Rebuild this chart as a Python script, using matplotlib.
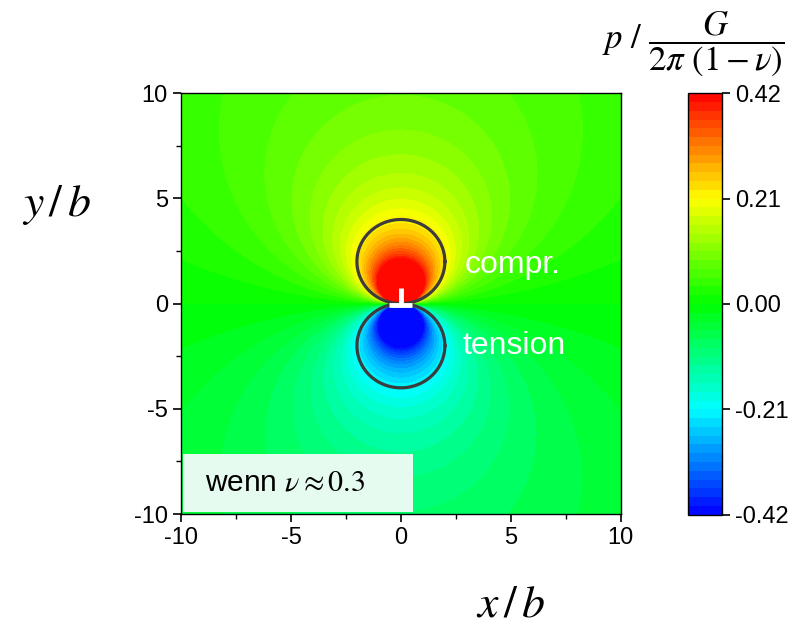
import numpy as np
import matplotlib.pyplot as plt
from matplotlib.colors import LinearSegmentedColormap
from matplotlib.patches import Rectangle

plt.rcParams['font.family'] = ['Liberation Sans', 'DejaVu Sans']
plt.rcParams['mathtext.fontset'] = 'stix'
plt.rcParams['axes.unicode_minus'] = False

# physical parameters and display range
nu = 0.3
p_max = 0.42
n_bands = 48
cbar_ticks = [-0.42, -0.21, 0.0, 0.21, 0.42]
axis_ticks = [-10, -5, 0, 5, 10]
circle_y = [2, -2]
circle_r = 2
labels = ['compr.', 'tension']
label_pos = [(2.9, 1.85), (2.8, -2.0)]

# hydrostatic pressure of an edge dislocation, in units G b / (2 pi (1 - nu))
x = np.linspace(-10, 10, 801)
y = np.linspace(-10, 10, 801)
X, Y = np.meshgrid(x, y)
R2 = X**2 + Y**2
R2[R2 == 0] = 1e-9
P = (2.0 / 3.0) * (1 + nu) * Y / R2
P = np.clip(P, -p_max, p_max)

cmap = LinearSegmentedColormap.from_list(
    'origin_rainbow', ['#0000ff', '#00ffff', '#00ff00', '#ffff00', '#ff0000'])
levels = np.linspace(-p_max, p_max, n_bands + 1)

fig = plt.figure(figsize=(8.01, 6.30), dpi=100)
ax = fig.add_axes([0.226, 0.184, 0.549, 0.668])
cf = ax.contourf(X, Y, P, levels=levels, cmap=cmap, vmin=-p_max, vmax=p_max)

t = np.linspace(0, 2 * np.pi, 400)
for cy in circle_y:
    ax.plot(circle_r * np.cos(t), cy + circle_r * np.sin(t), color='#3c3c3c', lw=2.3)

# dislocation symbol
ax.plot([-0.52, 0.52], [-0.05, -0.05], color='white', lw=3.5, solid_capstyle='butt')
ax.plot([0, 0], [-0.05, 0.75], color='white', lw=3.5, solid_capstyle='butt')

for txt, (tx, ty) in zip(labels, label_pos):
    ax.text(tx, ty, txt, color='white', fontsize=23, va='center', ha='left')

ax.add_patch(Rectangle((-9.9, -9.9), 10.45, 2.75, fc='#e6fbef', ec='none', zorder=3))
ax.text(-8.9, -8.5, r'wenn $\nu \approx 0.3$', fontsize=21.5, va='center', ha='left', zorder=4)

ax.set_xlim(-10, 10)
ax.set_ylim(-10, 10)
ax.set_xticks(axis_ticks)
ax.set_yticks(axis_ticks)
ax.set_xticks(np.arange(-7.5, 10, 5), minor=True)
ax.set_yticks(np.arange(-7.5, 10, 5), minor=True)
ax.tick_params(which='major', length=6, width=1.2, labelsize=17)
ax.tick_params(which='minor', length=3.5, width=1.0)
for s in ax.spines.values():
    s.set_linewidth(1.0)

fig.text(0.638, 0.04, r'$x\,/\,b$', fontsize=33, ha='center', va='center')
fig.text(0.07, 0.675, r'$y\,/\,b$', fontsize=33, ha='center', va='center')

cax = fig.add_axes([0.859, 0.183, 0.0425, 0.669])
cb = fig.colorbar(cf, cax=cax, ticks=cbar_ticks)
cb.ax.set_yticklabels(['%.2f' % v for v in cbar_ticks])
cb.ax.tick_params(length=6, width=1.2, labelsize=17)
cb.outline.set_linewidth(1.0)
fig.text(0.865, 0.93, r'$p\ /\ \dfrac{G}{2\pi\ (1-\nu)}$', fontsize=25, ha='center', va='center')

fig.savefig('out.png', dpi=100)
